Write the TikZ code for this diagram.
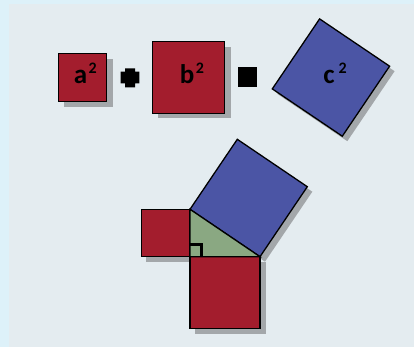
\documentclass[tikz,border=0pt]{standalone}
\usepackage{fontspec}
\setmainfont{Carlito}
\definecolor{outerbg}{HTML}{DDF1F9}
\definecolor{innerbg}{HTML}{E4ECF0}
\definecolor{sqred}{HTML}{A31D2D}
\definecolor{sqblue}{HTML}{4B55A5}
\definecolor{trigreen}{HTML}{8AA882}
\definecolor{shadowgray}{HTML}{A3A7AA}
\tikzset{
  redsq/.style={fill=sqred,draw=black,line width=1.3pt},
  bluesq/.style={fill=sqblue,draw=black,line width=1.3pt},
  trifill/.style={fill=trigreen,draw=black,line width=1.3pt},
  shad/.style={fill=shadowgray,draw=none},
  lbl/.style={inner sep=0pt,font=\bfseries\fontsize{27}{27}\selectfont},
  symb/.style={fill=black,draw=none}
}
\newcommand{\sqlab}[2][1.5pt]{#2\kern#1\raisebox{10pt}{\bfseries\fontsize{16}{16}\selectfont 2}}
\begin{document}
\begin{tikzpicture}[x=1pt,y=-1pt]
\useasboundingbox (0,0) rectangle (414,347);
\fill[outerbg] (0,0) rectangle (414,347);
\fill[innerbg] (9,4) rectangle (414,347);
% ---------- top row ----------
% a^2
\fill[shad] (64,59) rectangle (112.5,107);
\draw[redsq] (58.3,53.3) rectangle (106.7,101.7);
\node[lbl] (la) at (85.3,73.5) {\sqlab{a}};
% plus
\fill[symb] (125,68.3) -- (135,68.3) -- (135,71.7) -- (139.3,71.7) -- (139.3,83.3)
  -- (135,83.3) -- (135,87.3) -- (125,87.3) -- (125,83.3) -- (120.7,83.3)
  -- (120.7,71.7) -- (125,71.7) -- cycle;
% b^2
\fill[shad] (158,47.5) rectangle (230.5,118.5);
\draw[redsq] (152.3,41.7) rectangle (224.3,113.3);
\node[lbl] (lb) at (192,73) {\sqlab{b}};
% equals
\fill[symb] (238,67.3) rectangle (256.7,86.7);
% c^2
\fill[shad] (277.3,93.9) -- (347.3,141.2) -- (394.6,71.2) -- (324.6,23.9) -- cycle;
\draw[bluesq] (272.3,88.9) coordinate (cL) -- (342.3,136.2) coordinate (cB)
  -- (389.6,66.2) coordinate (cR) -- (319.6,18.9) coordinate (cT) -- cycle;
\node[lbl] (lc) at (335,73.7) {\sqlab[4pt]{c}};
% ---------- bottom figure ----------
\coordinate (R) at (190,256.7);
\coordinate (T) at (190,209.3);
\coordinate (H) at (260,256.7);
% shadows
\fill[shad] (146,214.3) rectangle (195,261.7);
\fill[shad] (195,261.7) rectangle (265.5,333.5);
\fill[shad] (195,214.3) -- (265,261.7) -- (312.3,191.7) -- (242.3,144.3) -- cycle;
% squares
\draw[redsq] (141.7,209.3) rectangle (T |- R);
\draw[redsq] (R) rectangle (260,328.3);
\draw[bluesq] (T) -- (H) -- (307.3,186.7) -- (237.3,139.3) -- cycle;
% triangle
\draw[trifill] (R) -- (T) -- (H) -- cycle;
% right-angle mark
\draw[line width=2.6pt] (190,244.7) -- (201.7,244.7) -- (201.7,256.7);
\end{tikzpicture}
\end{document}
